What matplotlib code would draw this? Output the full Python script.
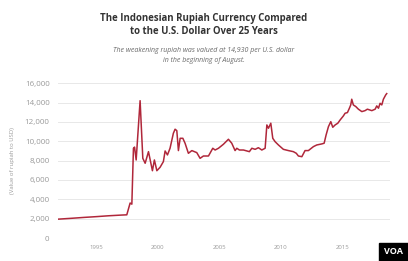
import matplotlib
matplotlib.use("Agg")
import matplotlib.pyplot as plt
import numpy as np

# IDR per USD
years = [
    1991.9, 1993.0, 1994.0, 1995.0, 1996.0, 1997.0, 1997.49,
    1997.76, 1997.9, 1998.03, 1998.12, 1998.25, 1998.57, 1998.79, 1998.98,
    1999.25, 1999.57, 1999.73, 1999.93, 2000.19, 2000.46, 2000.6, 2000.79,
    2001.0, 2001.27, 2001.41, 2001.55, 2001.68, 2001.82, 2002.04, 2002.22,
    2002.49, 2002.77, 2003.17, 2003.44, 2003.71, 2004.12, 2004.47, 2004.66,
    2004.93, 2005.33, 2005.74, 2006.01, 2006.28, 2006.42, 2006.63, 2006.96,
    2007.44, 2007.64, 2007.91, 2008.17, 2008.45, 2008.72, 2008.86, 2008.99,
    2009.18, 2009.34, 2009.53, 2009.80, 2010.20, 2010.61, 2011.01, 2011.25,
    2011.42, 2011.70, 2011.96, 2012.23, 2012.64, 2012.91, 2013.32, 2013.51,
    2013.67, 2013.86, 2014.05, 2014.21, 2014.40, 2014.62, 2014.81, 2015.07,
    2015.21, 2015.40, 2015.56, 2015.67, 2015.75, 2015.88, 2016.08, 2016.29,
    2016.57, 2016.83, 2017.02, 2017.38, 2017.65, 2017.78, 2017.92, 2018.05,
    2018.19, 2018.32, 2018.51, 2018.59,
]
rupiah = [
    1950, 2040, 2130, 2210, 2300, 2370, 2400,
    3620, 3500, 9280, 9400, 8070, 14200, 8240, 7730,
    8930, 6960, 8070, 6960, 7310, 7900, 9000, 8590,
    9280, 10830, 11250, 11100, 9040, 10310, 10310, 9800,
    8760, 9040, 8830, 8240, 8480, 8480, 9280, 9100,
    9280, 9690, 10210, 9800, 9040, 9280, 9100, 9100,
    8930, 9280, 9170, 9340, 9100, 9280, 11690, 11350,
    11870, 10310, 9960, 9620, 9170, 9040, 8930, 8760,
    8480, 8410, 9040, 9040, 9450, 9620, 9730, 9800,
    10660, 11520, 12030, 11450, 11690, 11870, 12210, 12620,
    12900, 12970, 13420, 13760, 14350, 13760, 13590, 13320,
    13070, 13170, 13320, 13170, 13320, 13660, 13420, 13930,
    13760, 14350, 14800, 14930,
]
yticks = [0, 2000, 4000, 6000, 8000, 10000, 12000, 14000, 16000]
xticks = [1995, 2000, 2005, 2010, 2015]

plt.rcParams['font.family'] = ['Open Sans', 'DejaVu Sans']

fig = plt.figure(figsize=(4.08, 2.61), dpi=100)
fig.patch.set_facecolor('white')
ax = fig.add_axes([0.142, 0.088, 0.814, 0.593])

ax.plot(years, rupiah, color='#b0273a', linewidth=1.1, solid_joinstyle='round')

ax.set_xlim(1991.9, 2018.86)
ax.set_ylim(0, 16000)
ax.set_yticks(yticks)
ax.set_yticklabels(['{:,}'.format(v) for v in yticks])
ax.set_xticks(xticks)
ax.set_xticklabels([str(v) for v in xticks])
ax.grid(axis='y', color='#e8e8e8', linewidth=0.7)
ax.set_axisbelow(True)
for s in ax.spines.values():
    s.set_visible(False)
ax.tick_params(axis='y', length=0, pad=6, labelsize=5.8, labelcolor='#9a9a9a')
ax.tick_params(axis='x', length=0, pad=5, labelsize=4.3, labelcolor='#9a9a9a')
ax.set_ylabel('(Value of rupiah to USD)', fontsize=4.3, color='#9a9a9a', labelpad=7)

fig.text(0.5, 0.904, 'The Indonesian Rupiah Currency Compared\nto the U.S. Dollar Over 25 Years',
         ha='center', va='center', fontsize=6.9, fontweight='bold', color='#333333',
         linespacing=1.35)
fig.text(0.5, 0.787, 'The weakening rupiah was valued at 14,930 per U.S. dollar\nin the beginning of August.',
         ha='center', va='center', fontsize=5.0, style='italic', color='#6a6a6a',
         linespacing=1.55)

# VOA badge
fig.patches.append(plt.Rectangle((379.3 / 408, 0), 1 - 379.3 / 408, 18 / 261,
                                 transform=fig.transFigure, color='black', zorder=5))
fig.text((379.3 + 408) / 2 / 408, 9 / 261, 'VOA', ha='center', va='center',
         fontsize=6.5, fontweight='bold', color='white', zorder=6)

fig.savefig('out.png', dpi=100)
